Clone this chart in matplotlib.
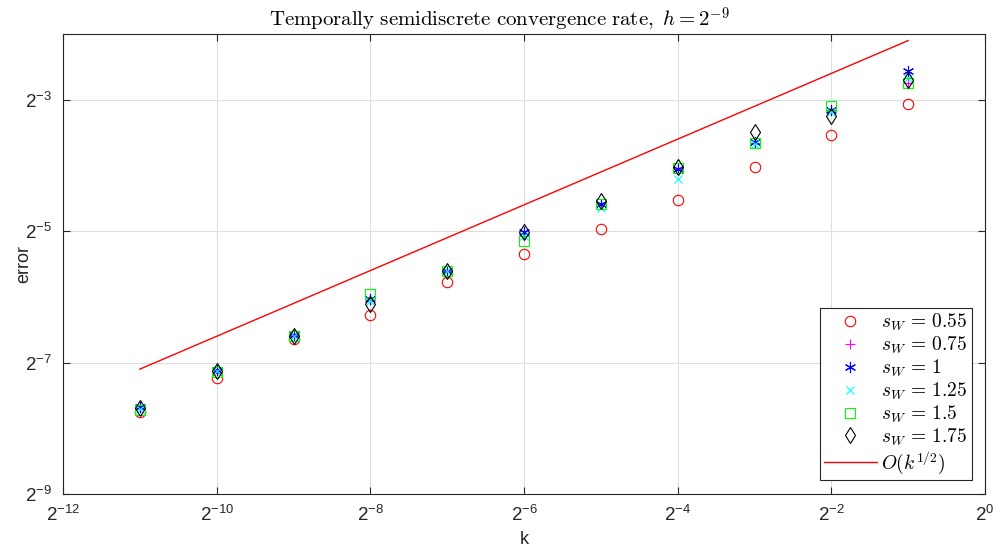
import numpy as np
import matplotlib
matplotlib.use('Agg')
import matplotlib.pyplot as plt
from matplotlib.ticker import FixedLocator, FuncFormatter

plt.rcParams['font.family'] = ['Liberation Sans', 'DejaVu Sans']
plt.rcParams['mathtext.fontset'] = 'cm'

# time step sizes k = 2^-11 ... 2^-1 (as exponents)
k_exp = [-11, -10, -9, -8, -7, -6, -5, -4, -3, -2, -1]

# log2(error), one list per s_W
err_055 = [-7.75, -7.23, -6.64, -6.27, -5.78, -5.35, -4.96, -4.53, -4.03, -3.54, -3.06]
err_075 = [-7.69, -7.12, -6.58, -6.05, -5.60, -5.05, -4.58, -4.06, -3.66, -3.16, -2.75]
err_1   = [-7.68, -7.11, -6.58, -6.04, -5.60, -5.02, -4.59, -4.05, -3.65, -3.16, -2.57]
err_125 = [-7.70, -7.13, -6.59, -6.07, -5.61, -5.08, -4.65, -4.20, -3.68, -3.18, -2.67]
err_15  = [-7.72, -7.14, -6.60, -5.96, -5.61, -5.15, -4.58, -4.04, -3.66, -3.09, -2.75]
err_175 = [-7.69, -7.13, -6.59, -6.11, -5.60, -5.02, -4.54, -4.02, -3.49, -3.25, -2.70]

# reference slope line O(k^1/2), endpoints (log2)
ref_k = [-11, -1]
ref_err = [-7.10, -2.10]

series = [
    (err_055, 'o', '#ff0000', r'$s_W\, =\, 0.55$', 7.5),
    (err_075, '+', '#ff00ff', r'$s_W\, =\, 0.75$', 7.5),
    (err_1, (6, 2, 0), '#0000ff', r'$s_W\, =\, 1$', 8),
    (err_125, 'x', '#00ffff', r'$s_W\, =\, 1.25$', 6),
    (err_15, 's', '#00ff00', r'$s_W\, =\, 1.5$', 6.5),
    (err_175, 'd', '#000000', r'$s_W\, =\, 1.75$', 8.5),
]

fig = plt.figure(figsize=(10.03, 5.52), dpi=100)
ax = fig.add_axes([63 / 1003, 58 / 552, 922 / 1003, 460 / 552])
ax.set_xscale('log', base=2)
ax.set_yscale('log', base=2)

k = 2.0 ** np.array(k_exp)
for vals, mk, col, lab, ms in series:
    ax.plot(k, 2.0 ** np.array(vals), linestyle='none', marker=mk, color=col,
            markerfacecolor='none', markeredgecolor=col, markersize=ms,
            markeredgewidth=0.8, label=lab)
ax.plot(2.0 ** np.array(ref_k), 2.0 ** np.array(ref_err), color='#ff0000',
        linewidth=1.0, label=r'$O(k^{1/2})$')

ax.set_xlim(2.0 ** -12, 2.0 ** 0)
ax.set_ylim(2.0 ** -9, 2.0 ** -2)
ax.xaxis.set_major_locator(FixedLocator(2.0 ** np.arange(-12, 1, 2)))
ax.yaxis.set_major_locator(FixedLocator(2.0 ** np.arange(-9, -2, 2)))
ax.xaxis.set_minor_locator(FixedLocator([]))
ax.yaxis.set_minor_locator(FixedLocator([]))
fmt = FuncFormatter(lambda v, p: r'$\mathdefault{2^{%d}}$' % round(np.log2(v)))
ax.xaxis.set_major_formatter(fmt)
ax.yaxis.set_major_formatter(fmt)

ax.tick_params(direction='in', top=True, right=True, length=5, width=0.8,
               colors='#262626', labelsize=13.5, labelcolor='#262626')
ax.tick_params(axis='x', pad=8)
ax.tick_params(axis='y', pad=8)
for s in ax.spines.values():
    s.set_color('#262626')
    s.set_linewidth(0.8)
ax.grid(True, color='#dedede', linewidth=0.8)
ax.set_axisbelow(True)

ax.set_xlabel('k', fontsize=13, color='#262626', labelpad=4)
ax.set_ylabel('error', fontsize=13, color='#262626')
ax.yaxis.set_label_coords(-0.033, 0.5)
t = ax.set_title(r'$\mathrm{Temporally\ semidiscrete\ convergence\ rate,}\ h = 2^{-9}$',
                 fontsize=15, pad=5)
t.set_x(0.473)

leg = ax.legend(loc='lower right', bbox_to_anchor=(0.986, 0.030), borderaxespad=0,
                fontsize=14, fancybox=False, framealpha=1, edgecolor='#262626',
                handlelength=2.7, handletextpad=0.25, borderpad=0.22,
                labelspacing=0.08)
leg.get_frame().set_linewidth(0.8)

fig.savefig('out.png', dpi=100)
